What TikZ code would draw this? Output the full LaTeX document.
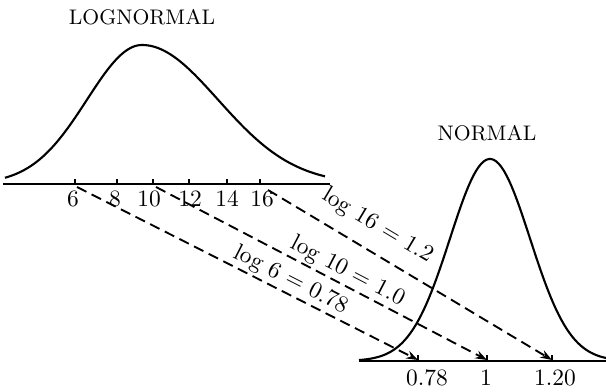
\documentclass[tikz,border=0pt]{standalone}
\usepackage{tikz}
\usetikzlibrary{arrows.meta, positioning, calc}
\tikzset{
  curve/.style={line width=0.9pt, line join=round},
  axisline/.style={line width=0.9pt},
  tickmark/.style={line width=0.9pt},
  ticklabel/.style={anchor=north, inner sep=0pt, font=\normalsize},
  maplink/.style={line width=0.8pt, dash pattern=on 4.5pt off 2.5pt,
                  -{Stealth[length=5pt, width=3.5pt]}},
  maplabel/.style={sloped, above, inner sep=1pt, font=\normalsize},
  title/.style={font=\small},
}

\begin{document}
\begin{tikzpicture}[x=0.015cm, y=-0.015cm]
    \useasboundingbox (0,0) rectangle (606,392);
    %% lognormal density and its axis
    \node[title] (lntitle) at (142,17) {LOGNORMAL};
    \draw[curve] plot[domain=5:142, samples=60]
        (\x, {184-139*exp(-0.5*((\x-142)/55)^2)})
      -- plot[domain=142:325, samples=60]
        (\x, {184-139*exp(-0.5*((\x-142)/76)^2)});
    \coordinate (la) at (3,184);
    \coordinate (lb) at (330,184);
    \draw[axisline] (la) -- (lb);
    \foreach \v/\px/\lx in {6/75/73, 8/117/115, 10/153/149, 12/189/190, 14/227/227, 16/260/262} {
      \draw[tickmark] (\px,184) -- (\px,179);
      \node[ticklabel] (t\v) at (\lx,190) {\v};
    }
    %% normal density and its axis
    \node[title] (ntitle) at (487,133) {NORMAL};
    \draw[curve] plot[domain=359:606, samples=100]
        (\x, {361-202*exp(-0.5*((\x-490)/40)^2)});
    \coordinate (na) at (359,361);
    \coordinate (nb) at (606,361);
    \draw[axisline] (na) -- (nb);
    \foreach \v/\px/\lx in {078/418/427, 1/487/486, 120/552/555} {
      \draw[tickmark] (\px,361) -- (\px,355);
    }
    \node[ticklabel] (u078) at (427,369) {0.78};
    \node[ticklabel] (u1)   at (486,369) {1};
    \node[ticklabel] (u120) at (555,369) {1.20};
    %% mapping x -> log x
    \coordinate (s6)   at (77,187);
    \coordinate (s10)  at (156,187);
    \coordinate (s16)  at (268,190);
    \coordinate (e078) at (418,360);
    \coordinate (e1)   at (487,360);
    \coordinate (e120) at (552,360);
    \draw[maplink] (s6)  -- node[maplabel, pos=0.61] {log 6 = 0.78} (e078);
    \draw[maplink] (s10) -- node[maplabel, pos=0.56] {log 10 = 1.0} (e1);
    \draw[maplink] (s16) -- node[maplabel, pos=0.34, above=5pt] {log 16 = 1.2} (e120);
\end{tikzpicture}
\end{document}
